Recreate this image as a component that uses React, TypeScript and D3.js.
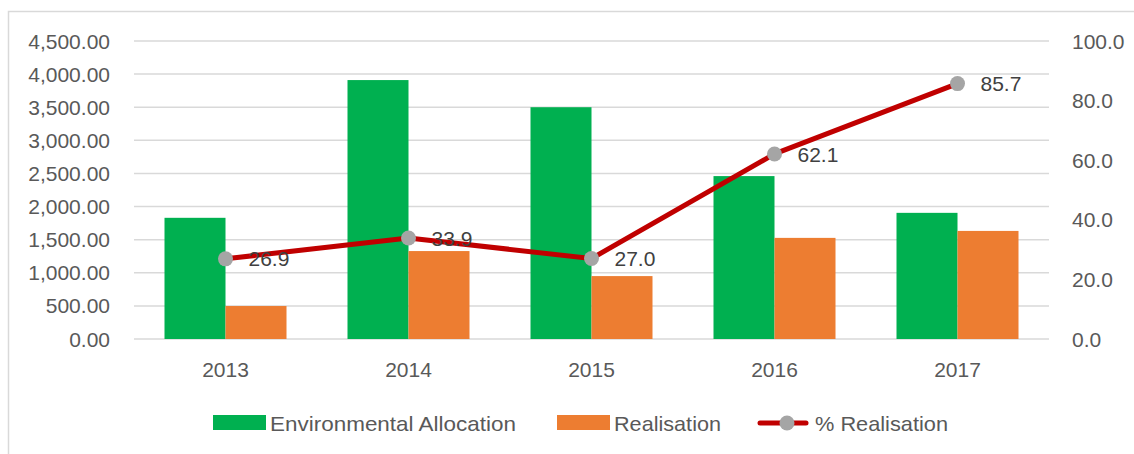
import { scaleBand, scaleLinear, line } from "d3";

const years = ["2013", "2014", "2015", "2016", "2017"];
const allocation = [1830, 3910, 3500, 2460, 1905];
const realisation = [498, 1328, 950, 1527, 1632];
const pctRealisation = [26.9, 33.9, 27.0, 62.1, 85.7];
const leftTicks = [0, 500, 1000, 1500, 2000, 2500, 3000, 3500, 4000, 4500];
const rightTicks = [0, 20, 40, 60, 80, 100];

const W = 1134;
const H = 454;
const margin = { top: 41, right: 85, bottom: 115, left: 134 };
const font = "'Liberation Sans', Arial, sans-serif";
const textColor = "#595959";
const gridColor = "#d9d9d9";
const green = "#00b050";
const orange = "#ed7d31";
const red = "#c00000";
const grey = "#a5a5a5";

const fmtLeft = (v: number) =>
  v.toLocaleString("en-US", { minimumFractionDigits: 2, maximumFractionDigits: 2 });

const App = () => {
  const innerWidth = W - margin.left - margin.right;
  const innerHeight = H - margin.top - margin.bottom;

  const xScale = scaleBand().domain(years).range([0, innerWidth]).paddingInner(0).paddingOuter(0);
  const barW = xScale.bandwidth() / 3;
  const yLeft = scaleLinear().domain([0, 4500]).range([innerHeight, 0]);
  const yRight = scaleLinear().domain([0, 100]).range([innerHeight, 0]);
  const cx = (y: string) => (xScale(y) as number) + xScale.bandwidth() / 2;

  const pts = years.map((y, i) => [cx(y), yRight(pctRealisation[i])] as [number, number]);
  const pathD = line()(pts) || "";

  return (
    <svg
      width={W}
      height={H}
      style={{ position: "absolute", left: 0, top: 0, background: "#fff" }}
      fontFamily={font}
    >
      <rect x={8.5} y={11.5} width={W} height={H} fill="#fff" stroke={gridColor} strokeWidth={1.5} />
      <g transform={`translate(${margin.left},${margin.top})`}>
        {leftTicks.map((t) => (
          <g key={t} transform={`translate(0,${yLeft(t)})`}>
            <line x1={0} x2={innerWidth} stroke={gridColor} strokeWidth={1.5} />
            <text x={-24} dy="0.36em" textAnchor="end" fontSize={21} fill={textColor}>
              {fmtLeft(t)}
            </text>
          </g>
        ))}
        {rightTicks.map((t) => (
          <text
            key={t}
            x={innerWidth + 23}
            y={yRight(t)}
            dy="0.36em"
            fontSize={21}
            fill={textColor}
          >
            {t.toFixed(1)}
          </text>
        ))}
        {years.map((y) => (
          <text
            key={y}
            x={cx(y)}
            y={innerHeight + 30}
            dy="0.36em"
            textAnchor="middle"
            fontSize={21}
            fill={textColor}
          >
            {y}
          </text>
        ))}
        {years.map((y, i) => (
          <g key={y}>
            <rect
              x={(xScale(y) as number) + barW / 2}
              y={yLeft(allocation[i])}
              width={barW}
              height={innerHeight - yLeft(allocation[i])}
              fill={green}
            />
            <rect
              x={(xScale(y) as number) + barW * 1.5}
              y={yLeft(realisation[i])}
              width={barW}
              height={innerHeight - yLeft(realisation[i])}
              fill={orange}
            />
          </g>
        ))}
        <path d={pathD} fill="none" stroke={red} strokeWidth={5} strokeLinejoin="round" />
        {pts.map((p, i) => (
          <g key={i}>
            <circle cx={p[0]} cy={p[1]} r={7.5} fill={grey} />
            <text
              x={p[0] + 23}
              y={p[1]}
              dy="0.36em"
              fontSize={21}
              fill="#404040"
            >
              {pctRealisation[i].toFixed(1)}
            </text>
          </g>
        ))}
      </g>
      <g transform="translate(0,423)" fontSize={21} fill={textColor}>
        <rect x={213} y={-8} width={53} height={15} fill={green} />
        <text x={270} dy="0.36em" textLength={246} lengthAdjust="spacingAndGlyphs">
          Environmental Allocation
        </text>
        <rect x={557} y={-8} width={53} height={15} fill={orange} />
        <text x={614} dy="0.36em" textLength={107} lengthAdjust="spacingAndGlyphs">
          Realisation
        </text>
        <line x1={760} x2={806} y1={0} y2={0} stroke={red} strokeWidth={5} strokeLinecap="round" />
        <circle cx={787} cy={0} r={7.5} fill={grey} />
        <text x={815} dy="0.36em" textLength={133} lengthAdjust="spacingAndGlyphs">
          % Realisation
        </text>
      </g>
    </svg>
  );
};

export default App;
